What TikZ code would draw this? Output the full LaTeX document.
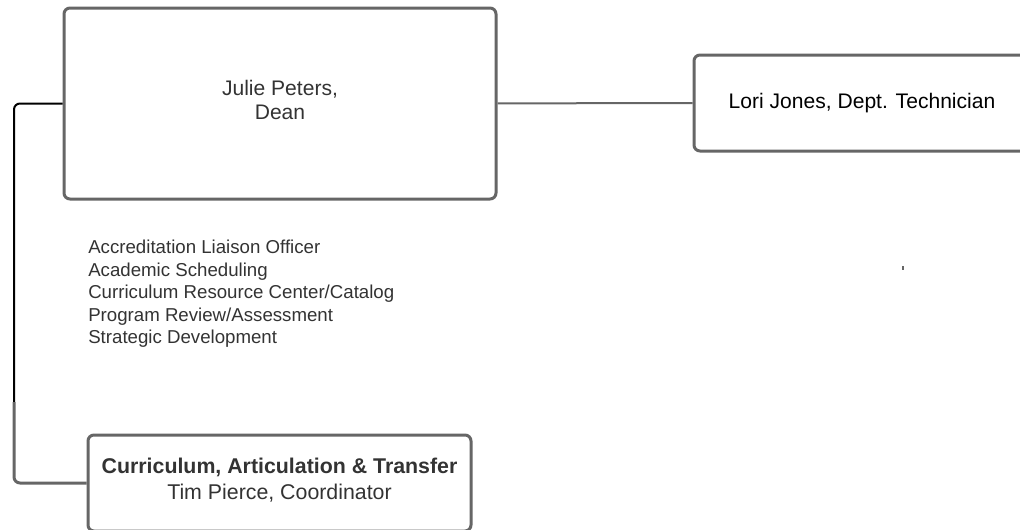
\documentclass[tikz,border=0pt]{standalone}
\usepackage{fontspec}
\setmainfont{Liberation Sans}
\usepackage{xcolor}
\definecolor{boxgray}{HTML}{666666}
\definecolor{textgray}{HTML}{333333}

\begin{document}
\begin{tikzpicture}[x=0.75pt, y=-0.75pt,
    card/.style = {draw=boxgray, line width=2.25pt, rounded corners=4.5pt,
                inner sep=0pt, text=textgray, align=center,
                font=\fontsize{15.8pt}{18pt}\selectfont},
    link/.style = {draw=boxgray, line width=1.5pt}
                    ]
    \useasboundingbox (0,0) rectangle (1020,529);
    \def\lx{14}   % x of the left trunk line
    \def\ly{402}  % where the black trunk turns grey
    \node[card, minimum width=432*0.75pt, minimum height=191*0.75pt, text depth=6pt]
        at (280,103.5) (dean) {Julie Peters,\\Dean};
    \node[card, minimum width=336*0.75pt, minimum height=96*0.75pt, text=black]
        at (862,103) (lori) {Lori Jones, Dept. Technician};
    \node[card, minimum width=383*0.75pt, minimum height=96*0.75pt, text depth=6pt,
        font=\fontsize{16pt}{19.5pt}\selectfont]
        at (279.5,483) (cat) {\textbf{Curriculum, Articulation \& Transfer}\\Tim Pierce, Coordinator};
    \node[anchor=west, inner sep=0pt, align=left, text=textgray,
        font=\fontsize{14pt}{16.9pt}\selectfont] at (88,294) (duties)
        {Accreditation Liaison Officer\\Academic Scheduling\\
         Curriculum Resource Center/Catalog\\Program Review/Assessment\\
         Strategic Development};
    \coordinate (turn) at (\lx,\ly);
    \draw[link] (dean) -- (lori);
    \draw[black, line width=1.5pt, rounded corners=4.5pt] (dean.west) -| (turn);
    \draw[boxgray, line width=2.25pt, rounded corners=4.5pt] (turn) |- (cat.west);
    \fill[boxgray] (902,266) rectangle (904,270);
\end{tikzpicture}
\end{document}
